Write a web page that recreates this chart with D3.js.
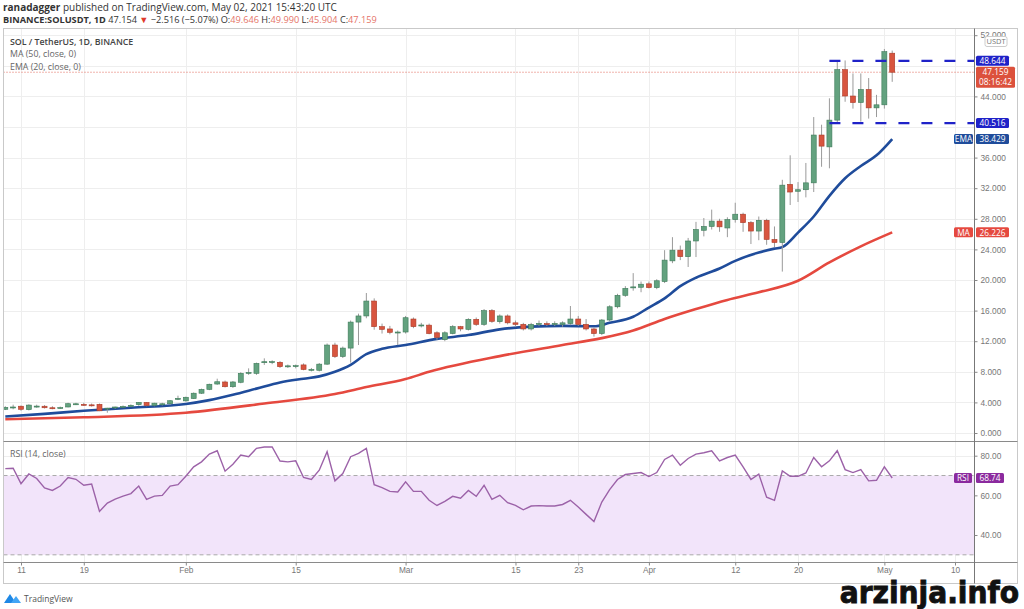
<!DOCTYPE html>
<html>
<head>
<meta charset="utf-8">
<script src="https://cdn.jsdelivr.net/npm/d3@7"></script>
<style>
  html, body { margin: 0; padding: 0; background: #fff; }
  svg { display: block; font-family: "Open Sans", "Liberation Sans", sans-serif; }
</style>
</head>
<body>
<div id="chart"></div>
<script>
(function () {
  // first candle of the series, one candle per day after it
  const FIRST_DAY = "2021-01-09";

  // daily candles: [open, high, low, close]
  const candles = [
    [3.1, 3.5, 3.0, 3.35], [3.35, 3.7, 3.1, 3.4], [3.5, 3.6, 2.9, 3.1], [3.05, 3.75, 2.95, 3.65],
    [3.48, 3.7, 3.3, 3.52], [3.5, 3.65, 3.2, 3.3], [3.3, 3.5, 3.1, 3.25], [3.28, 3.45, 3.15, 3.33],
    [3.4, 3.95, 3.35, 3.83], [3.8, 3.95, 3.65, 3.82], [3.75, 3.95, 3.55, 3.7], [3.68, 3.85, 3.45, 3.66],
    [3.75, 3.85, 2.85, 2.9], [3.15, 3.3, 2.65, 3.25], [3.3, 3.45, 3.15, 3.4], [3.43, 3.6, 3.3, 3.47],
    [3.58, 3.75, 3.45, 3.62], [3.7, 4.05, 3.55, 4.0], [4.0, 4.05, 3.5, 3.6], [3.6, 3.95, 3.5, 3.9],
    [3.78, 3.95, 3.6, 3.82], [3.83, 4.3, 3.7, 4.22], [4.48, 4.88, 4.3, 4.53], [4.2, 4.75, 4.1, 4.67],
    [4.5, 5.3, 4.45, 5.2], [5.2, 5.8, 5.1, 5.7], [5.7, 6.45, 5.6, 6.37], [6.4, 7.1, 6.3, 6.7],
    [6.67, 6.85, 5.95, 6.05], [6.05, 6.8, 5.9, 6.67], [6.63, 7.95, 6.5, 7.8], [7.85, 8.45, 7.6, 7.92],
    [7.8, 9.2, 7.6, 9.1], [9.25, 9.76, 8.9, 9.32], [9.28, 9.5, 9.0, 9.33], [9.24, 9.4, 8.5, 8.67],
    [8.72, 8.95, 8.5, 8.78], [8.74, 8.95, 8.45, 8.8], [8.9, 9.1, 8.2, 8.3], [8.28, 8.5, 8.05, 8.32],
    [8.2, 9.15, 8.05, 9.0], [9.0, 11.7, 8.9, 11.5], [11.5, 11.8, 9.8, 10.0], [10.0, 11.3, 9.8, 11.1],
    [11.1, 14.7, 9.2, 14.5], [14.5, 15.6, 11.5, 15.3], [15.3, 18.3, 15.0, 17.25], [17.25, 17.6, 13.5, 13.9],
    [13.9, 14.3, 13.0, 13.55], [13.6, 14.0, 12.9, 13.16], [13.15, 13.4, 11.5, 13.2], [13.2, 15.3, 13.0, 15.07],
    [14.9, 15.1, 13.7, 13.9], [14.05, 14.4, 13.8, 14.12], [14.1, 14.3, 12.9, 13.0], [13.1, 13.3, 12.2, 12.5],
    [12.2, 13.3, 12.0, 13.1], [13.0, 14.1, 12.9, 13.9], [13.9, 14.0, 13.3, 13.6], [13.55, 15.0, 13.4, 14.86],
    [14.86, 15.1, 14.0, 14.2], [14.2, 16.2, 14.0, 16.0], [16.0, 16.2, 14.4, 14.6], [14.55, 15.5, 14.3, 15.3],
    [15.3, 15.5, 14.2, 14.4], [14.4, 14.7, 13.9, 14.2], [14.2, 14.4, 13.4, 13.6], [13.6, 14.4, 13.4, 14.2],
    [14.25, 14.7, 14.0, 14.32], [14.3, 14.6, 14.0, 14.28], [14.28, 14.6, 14.0, 14.32], [14.2, 14.6, 13.9, 14.4],
    [14.3, 16.6, 14.1, 14.9], [14.9, 15.3, 14.0, 14.2], [14.2, 14.9, 13.4, 13.6], [13.6, 13.8, 12.6, 13.0],
    [13.0, 14.9, 12.8, 14.77], [14.77, 16.7, 14.6, 16.5], [16.5, 18.2, 16.3, 18.0], [18.0, 19.2, 17.8, 18.9],
    [19.0, 20.9, 18.6, 19.1], [19.05, 19.8, 18.4, 19.45], [19.5, 19.8, 18.9, 19.0], [19.0, 20.1, 18.8, 19.9],
    [19.8, 23.9, 19.6, 22.6], [22.5, 25.6, 22.2, 23.9], [23.9, 24.5, 22.6, 23.05], [23.05, 25.5, 21.7, 25.1],
    [25.1, 27.6, 23.0, 26.6], [26.5, 28.1, 25.7, 27.0], [27.0, 29.2, 26.6, 27.7], [27.7, 28.0, 26.3, 26.95],
    [26.8, 28.2, 25.6, 27.9], [27.9, 30.1, 27.5, 28.6], [28.6, 28.8, 26.3, 27.5], [27.5, 27.7, 24.7, 26.4],
    [26.4, 28.3, 25.2, 27.8], [27.8, 28.0, 24.6, 25.3], [25.3, 27.0, 24.3, 24.9], [24.9, 33.1, 21.1, 32.4],
    [32.5, 36.3, 29.8, 31.5], [31.6, 32.8, 30.2, 31.8], [31.8, 35.3, 30.8, 32.7], [32.7, 41.3, 31.5, 38.95],
    [38.95, 40.3, 34.8, 37.5], [37.4, 43.75, 34.6, 40.9], [40.9, 48.5, 40.5, 47.5], [47.5, 48.7, 43.3, 44.05],
    [44.05, 47.0, 42.4, 43.2], [43.2, 47.0, 40.7, 44.9], [44.9, 46.4, 41.1, 42.5], [42.5, 44.2, 41.3, 42.9],
    [42.9, 50.2, 42.4, 49.85], [49.646, 49.99, 45.904, 47.159],
  ];

  // RSI (14, close), one value per candle
  const rsi14 = [
    73.5, 73.7, 65.9, 70.8, 68.5, 63.7, 62.5, 64.7, 69.0, 68.1, 65.1, 65.7,
    51.9, 56.1, 58.1, 59.6, 60.9, 64.7, 58.0, 59.6, 60.0, 64.7, 65.4, 69.6,
    74.4, 76.9, 80.8, 82.5, 72.2, 75.7, 80.3, 79.5, 83.7, 84.4, 84.4, 77.3,
    76.9, 77.4, 69.0, 68.0, 72.7, 82.0, 67.3, 71.0, 79.5, 81.2, 83.7, 65.4,
    63.9, 62.0, 61.7, 66.8, 62.0, 62.0, 57.5, 54.9, 57.0, 59.5, 58.6, 62.5,
    59.5, 65.1, 58.0, 60.0, 56.3, 54.9, 52.7, 54.6, 54.8, 54.6, 54.6, 55.4,
    57.5, 54.1, 50.4, 46.8, 56.6, 62.9, 68.0, 70.5, 71.0, 71.5, 69.5, 71.5,
    78.1, 80.3, 75.2, 78.6, 80.8, 81.5, 82.5, 77.4, 79.1, 80.3, 74.4, 68.0,
    70.7, 59.1, 57.5, 72.3, 69.6, 69.6, 71.3, 79.1, 74.4, 77.4, 82.5, 73.0,
    71.5, 73.0, 67.3, 67.6, 74.4, 68.74,
  ];

  // MA (50, close)
  const ma50 = [
    ["2021-01-09", 1.8], ["2021-01-19", 2.05], ["2021-02-01", 2.65], ["2021-02-11", 3.85],
    ["2021-02-20", 5.1], ["2021-02-24", 6.0], ["2021-03-01", 7.05], ["2021-03-04", 8.0],
    ["2021-03-13", 10.05], ["2021-03-21", 11.5], ["2021-03-26", 12.4], ["2021-03-30", 13.4],
    ["2021-04-03", 14.9], ["2021-04-07", 16.2], ["2021-04-11", 17.4], ["2021-04-15", 18.4],
    ["2021-04-20", 19.9], ["2021-04-24", 22.3], ["2021-04-28", 24.4], ["2021-05-02", 26.226],
  ];

  // EMA (20, close)
  const ema20 = [
    ["2021-01-09", 2.15], ["2021-01-14", 2.5], ["2021-01-19", 2.9], ["2021-01-25", 3.3],
    ["2021-02-01", 3.8], ["2021-02-04", 4.3], ["2021-02-07", 5.0], ["2021-02-10", 5.8],
    ["2021-02-13", 6.6], ["2021-02-16", 7.1], ["2021-02-18", 7.4], ["2021-02-20", 8.0],
    ["2021-02-22", 8.9], ["2021-02-24", 10.3], ["2021-02-26", 11.0], ["2021-03-01", 11.5],
    ["2021-03-05", 12.3], ["2021-03-09", 12.8], ["2021-03-13", 13.55], ["2021-03-17", 13.9],
    ["2021-03-21", 14.0], ["2021-03-25", 13.95], ["2021-03-27", 14.4], ["2021-03-30", 15.2],
    ["2021-04-01", 16.4], ["2021-04-03", 17.6], ["2021-04-05", 19.2], ["2021-04-07", 20.3],
    ["2021-04-10", 21.5], ["2021-04-12", 22.5], ["2021-04-15", 23.6], ["2021-04-17", 24.1],
    ["2021-04-18", 24.3], ["2021-04-20", 26.2], ["2021-04-22", 28.3], ["2021-04-24", 31.0],
    ["2021-04-26", 33.3], ["2021-04-28", 34.9], ["2021-04-30", 36.3], ["2021-05-02", 38.429],
  ];

  // drawn horizontal levels
  const levels = [48.644, 40.516];
  const LEVEL_FROM = "2021-04-24";

  const priceTicks = [0, 4, 8, 12, 16, 20, 24, 28, 32, 36, 40, 44, 48, 52];
  const rsiTicks = [40, 60, 80];
  const timeTicks = [
    ["2021-01-11", "11"], ["2021-01-19", "19"], ["2021-02-01", "Feb"], ["2021-02-15", "15"],
    ["2021-03-01", "Mar"], ["2021-03-15", "15"], ["2021-03-23", "23"], ["2021-04-01", "Apr"],
    ["2021-04-12", "12"], ["2021-04-20", "20"], ["2021-05-01", "May"], ["2021-05-10", "10"],
  ];

  const lastPrice = 47.159;
  const lastRsi = 68.74;

  // layout
  const width = 1024;
  const height = 609;
  const frame = { left: 3.5, right: 1017.5, top: 28.5, bottom: 583.5 };
  const axisX = 974.5;
  const mainPanel = { top: 28.5, bottom: 441 };
  const rsiPanel = { top: 442, bottom: 562.5 };

  const GREEN = "#63a27f";
  const GREEN_EDGE = "#3d7a59";
  const RED = "#d8553f";
  const RED_EDGE = "#a93a27";
  const LEVEL_BLUE = "#1f22c8";
  const EMA_BLUE = "#1f4c9b";
  const MA_RED = "#e5493f";

  const parse = (s) => new Date(s + "T00:00:00Z");
  const dayOf = (i) => d3.utcDay.offset(parse(FIRST_DAY), i);

  const x = d3
    .scaleUtc()
    .domain([parse("2021-01-11"), parse("2021-05-10")])
    .range([21, 955]);
  const y = d3.scaleLinear().domain([0, 52]).range([433, 35.2]);
  const yRsi = d3.scaleLinear().domain([40, 80]).range([535, 455.7]);

  const emaLast = ema20[ema20.length - 1][1];
  const maLast = ma50[ma50.length - 1][1];

  const svg = d3
    .select("#chart")
    .append("svg")
    .attr("width", width)
    .attr("height", height)
    .attr("viewBox", `0 0 ${width} ${height}`);

  const defs = svg.append("defs");
  defs
    .append("clipPath")
    .attr("id", "clip-main")
    .append("rect")
    .attr("x", frame.left)
    .attr("y", mainPanel.top)
    .attr("width", axisX - frame.left)
    .attr("height", mainPanel.bottom - mainPanel.top);
  defs
    .append("clipPath")
    .attr("id", "clip-rsi")
    .append("rect")
    .attr("x", frame.left)
    .attr("y", rsiPanel.top)
    .attr("width", axisX - frame.left)
    .attr("height", rsiPanel.bottom - rsiPanel.top);

  // header
  const header = svg.append("g").attr("fill", "#333");
  const line1 = header.append("text").attr("x", 3).attr("y", 11).style("font-size", "10px");
  line1.append("tspan").attr("font-weight", 700).text("ranadagger");
  line1.append("tspan").text(" published on TradingView.com, May 02, 2021 15:43:20 UTC");

  const line2 = header.append("text").attr("x", 3).attr("y", 22.5).style("font-size", "9.2px");
  line2.append("tspan").attr("font-weight", 700).text("BINANCE:SOLUSDT, 1D");
  line2.append("tspan").text(" 47.154 ");
  line2.append("tspan").attr("fill", "#e0392b").text("▼");
  line2.append("tspan").text(" −2.516 (−5.07%) ");
  [
    ["O:", "49.646"],
    ["H:", "49.990"],
    ["L:", "45.904"],
    ["C:", "47.159"],
  ].forEach(([k, v], i) => {
    line2.append("tspan").text((i ? " " : "") + k);
    line2.append("tspan").attr("fill", "#e57368").text(v);
  });

  // grid
  const grid = svg.append("g").attr("stroke", "#eeeeee").attr("stroke-width", 1);
  grid
    .selectAll("line.h")
    .data(priceTicks)
    .join("line")
    .attr("x1", frame.left)
    .attr("x2", axisX)
    .attr("y1", (d) => Math.round(y(d)) + 0.5)
    .attr("y2", (d) => Math.round(y(d)) + 0.5);
  grid
    .selectAll("line.r")
    .data(rsiTicks)
    .join("line")
    .attr("x1", frame.left)
    .attr("x2", axisX)
    .attr("y1", (d) => Math.round(yRsi(d)) + 0.5)
    .attr("y2", (d) => Math.round(yRsi(d)) + 0.5);
  grid
    .selectAll("line.v")
    .data(timeTicks)
    .join("line")
    .attr("x1", (d) => Math.round(x(parse(d[0]))) + 0.5)
    .attr("x2", (d) => Math.round(x(parse(d[0]))) + 0.5)
    .attr("y1", frame.top)
    .attr("y2", rsiPanel.bottom);

  // RSI band 30..70
  const rsiG = svg.append("g").attr("clip-path", "url(#clip-rsi)");
  rsiG
    .append("rect")
    .attr("x", frame.left)
    .attr("width", axisX - frame.left)
    .attr("y", yRsi(70))
    .attr("height", yRsi(30) - yRsi(70))
    .attr("fill", "#f2e4fa");
  rsiG
    .selectAll("line.band")
    .data([70, 30])
    .join("line")
    .attr("x1", frame.left)
    .attr("x2", axisX)
    .attr("y1", (d) => yRsi(d))
    .attr("y2", (d) => yRsi(d))
    .attr("stroke", "#aaaaaa")
    .attr("stroke-dasharray", "4,3");
  rsiG
    .append("path")
    .datum(rsi14)
    .attr("fill", "none")
    .attr("stroke", "#9c62a8")
    .attr("stroke-width", 1.4)
    .attr(
      "d",
      d3
        .line()
        .x((d, i) => x(dayOf(i)))
        .y((d) => yRsi(d))
    );

  // main panel content
  const mainG = svg.append("g").attr("clip-path", "url(#clip-main)");

  // last price dotted line
  mainG
    .append("line")
    .attr("x1", frame.left)
    .attr("x2", axisX)
    .attr("y1", y(lastPrice))
    .attr("y2", y(lastPrice))
    .attr("stroke", "#e0685a")
    .attr("stroke-width", 1)
    .attr("stroke-dasharray", "1,2");

  const lineGen = d3
    .line()
    .curve(d3.curveMonotoneX)
    .x((d) => x(parse(d[0])))
    .y((d) => y(d[1]));

  mainG
    .append("path")
    .datum(ma50)
    .attr("fill", "none")
    .attr("stroke", MA_RED)
    .attr("stroke-width", 2.6)
    .attr("d", lineGen);
  mainG
    .append("path")
    .datum(ema20)
    .attr("fill", "none")
    .attr("stroke", EMA_BLUE)
    .attr("stroke-width", 2.6)
    .attr("d", lineGen);

  // candles
  const candleG = mainG
    .selectAll("g.candle")
    .data(candles)
    .join("g")
    .attr("class", "candle")
    .attr("transform", (d, i) => `translate(${x(dayOf(i))},0)`);
  candleG
    .append("line")
    .attr("y1", (d) => y(d[1]))
    .attr("y2", (d) => y(d[2]))
    .attr("stroke", "#9a9a9a")
    .attr("stroke-width", 1);
  candleG
    .append("rect")
    .attr("x", -2.5)
    .attr("width", 5)
    .attr("y", (d) => y(Math.max(d[0], d[3])))
    .attr("height", (d) => Math.max(1, Math.abs(y(d[0]) - y(d[3]))))
    .attr("fill", (d) => (d[3] >= d[0] ? GREEN : RED))
    .attr("stroke", (d) => (d[3] >= d[0] ? GREEN_EDGE : RED_EDGE))
    .attr("stroke-width", 0.6);

  // dashed levels
  mainG
    .selectAll("line.level")
    .data(levels)
    .join("line")
    .attr("x1", x(parse(LEVEL_FROM)))
    .attr("x2", axisX)
    .attr("y1", (d) => y(d))
    .attr("y2", (d) => y(d))
    .attr("stroke", LEVEL_BLUE)
    .attr("stroke-width", 2.2)
    .attr("stroke-dasharray", "11,12");

  // legends
  const legend = svg.append("g").style("font-size", "8.8px");
  legend
    .append("text")
    .attr("x", 10)
    .attr("y", 44.5)
    .attr("fill", "#444")
    .attr("font-weight", 600)
    .text("SOL / TetherUS, 1D, BINANCE");
  legend.append("text").attr("x", 10).attr("y", 57).attr("fill", "#666").text("MA (50, close, 0)");
  legend.append("text").attr("x", 10).attr("y", 69.5).attr("fill", "#666").text("EMA (20, close, 0)");
  legend
    .append("text")
    .attr("x", 10)
    .attr("y", 456.5)
    .attr("fill", "#666")
    .text("RSI (14, close)");

  // frame and separators
  svg
    .append("rect")
    .attr("x", frame.left)
    .attr("y", frame.top)
    .attr("width", frame.right - frame.left)
    .attr("height", frame.bottom - frame.top)
    .attr("fill", "none")
    .attr("stroke", "#c9c9c9");
  svg
    .append("line")
    .attr("x1", frame.left)
    .attr("x2", frame.right)
    .attr("y1", 441.5)
    .attr("y2", 441.5)
    .attr("stroke", "#8a8a8a");
  svg
    .append("line")
    .attr("x1", frame.left)
    .attr("x2", frame.right)
    .attr("y1", rsiPanel.bottom)
    .attr("y2", rsiPanel.bottom)
    .attr("stroke", "#8a8a8a");
  svg
    .append("line")
    .attr("x1", axisX)
    .attr("x2", axisX)
    .attr("y1", frame.top)
    .attr("y2", frame.bottom)
    .attr("stroke", "#777");

  // price axis; ticks sitting under a value tag stay hidden, as on the original
  const tagged = [...levels, emaLast, maLast];
  const priceAxis = svg
    .append("g")
    .attr("transform", `translate(${axisX},0)`)
    .call(
      d3
        .axisRight(y)
        .tickValues(priceTicks.filter((t) => !tagged.some((v) => Math.abs(y(v) - y(t)) < 8)))
        .tickFormat(d3.format(".3f"))
        .tickSize(3)
        .tickPadding(3)
    );
  priceAxis.select(".domain").remove();
  priceAxis.selectAll("line").attr("stroke", "#888");
  priceAxis.selectAll("text").attr("fill", "#777").style("font-size", "8.3px");

  const rsiAxis = svg
    .append("g")
    .attr("transform", `translate(${axisX},0)`)
    .call(
      d3
        .axisRight(yRsi)
        .tickValues(rsiTicks)
        .tickFormat(d3.format(".2f"))
        .tickSize(3)
        .tickPadding(3)
    );
  rsiAxis.select(".domain").remove();
  rsiAxis.selectAll("line").attr("stroke", "#888");
  rsiAxis.selectAll("text").attr("fill", "#777").style("font-size", "8.3px");

  // time axis
  const timeAxis = svg
    .append("g")
    .attr("transform", `translate(0,${rsiPanel.bottom})`)
    .call(
      d3
        .axisBottom(x)
        .tickValues(timeTicks.map((d) => parse(d[0])))
        .tickFormat((d, i) => timeTicks[i][1])
        .tickSize(3)
        .tickPadding(2)
    );
  timeAxis.select(".domain").remove();
  timeAxis.selectAll("line").attr("stroke", "#888");
  timeAxis.selectAll("text").attr("fill", "#777").style("font-size", "8.3px");

  // right-hand value labels
  function tag(x0, yc, w, h, fill, lines, color) {
    const g = svg.append("g");
    g.append("rect")
      .attr("x", x0)
      .attr("y", yc - h / 2)
      .attr("width", w)
      .attr("height", h)
      .attr("rx", 1.5)
      .attr("fill", fill);
    lines.forEach((t, i) => {
      g.append("text")
        .attr("x", x0 + w / 2)
        .attr("y", yc - h / 2 + 8.2 + i * 10)
        .attr("text-anchor", "middle")
        .attr("fill", color || "#fff")
        .style("font-size", "8.3px")
        .text(t);
    });
    return g;
  }

  // USDT badge over the top tick
  const badge = svg.append("g");
  badge
    .append("rect")
    .attr("x", 985)
    .attr("y", 36.5)
    .attr("width", 22)
    .attr("height", 10)
    .attr("rx", 2)
    .attr("fill", "#fff")
    .attr("stroke", "#cccccc");
  badge
    .append("text")
    .attr("x", 996)
    .attr("y", 44.3)
    .attr("text-anchor", "middle")
    .attr("fill", "#777")
    .style("font-size", "7.5px")
    .text("USDT");

  levels.forEach((v) => tag(976, y(v), 33, 10, LEVEL_BLUE, [d3.format(".3f")(v)]));
  tag(976, y(lastPrice) + 5, 39, 21, "#dc513c", [d3.format(".3f")(lastPrice), "08:16:42"]);

  tag(954, y(emaLast), 19, 10, EMA_BLUE, ["EMA"]);
  tag(976, y(emaLast), 33, 10, EMA_BLUE, [d3.format(".3f")(emaLast)]);

  tag(954, y(maLast), 19, 10, MA_RED, ["MA"]);
  tag(976, y(maLast), 33, 10, MA_RED, [d3.format(".3f")(maLast)]);

  tag(954, yRsi(lastRsi), 18, 10, "#8b2a9e", ["RSI"]);
  tag(976, yRsi(lastRsi), 28, 10, "#8b2a9e", [d3.format(".2f")(lastRsi)]);

  // footer: TradingView mark and watermark
  const logo = svg.append("g").attr("transform", "translate(4,592)");
  logo.append("path").attr("d", "M0,11 L6,2 L10,8 L8,11 Z").attr("fill", "#1e88e5");
  logo.append("path").attr("d", "M7,11 L12,4 L17,11 Z").attr("fill", "#42a5f5");
  logo
    .append("text")
    .attr("x", 20)
    .attr("y", 10)
    .attr("fill", "#555")
    .style("font-size", "8.5px")
    .text("TradingView");

  svg
    .append("text")
    .attr("transform", "translate(1019,602.7) scale(1.06,1)")
    .attr("text-anchor", "end")
    .attr("fill", "#111")
    .attr("stroke", "#111")
    .attr("stroke-width", 0.8)
    .attr("font-weight", 700)
    .style("font-family", '"Liberation Sans Narrow", "DejaVu Sans Condensed", "Liberation Sans", sans-serif')
    .style("font-size", "29.5px")
    .text("arzinja.info");
})();
</script>
</body>
</html>
